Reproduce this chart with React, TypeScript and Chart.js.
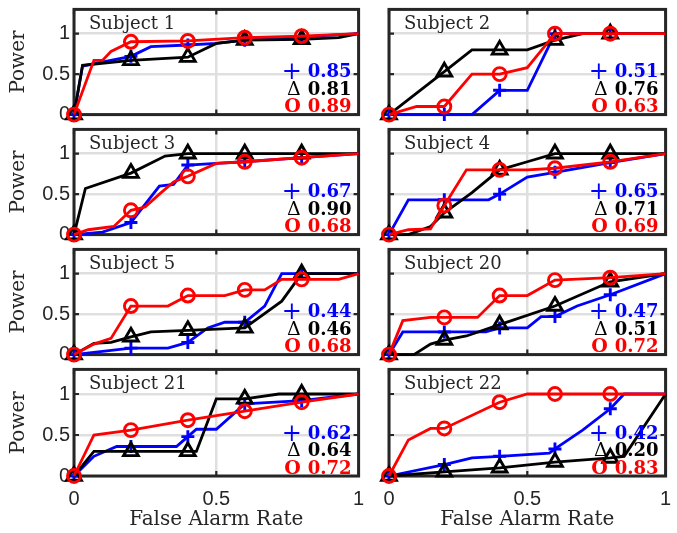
import React, { useEffect, useRef } from "react";
import { Chart, registerables } from "chart.js";
Chart.register(...registerables);

type Pt = [number, number];

// ---------- data ----------
const SUBJECT_NAMES = ["Subject 1", "Subject 2", "Subject 3", "Subject 4", "Subject 5", "Subject 20", "Subject 21", "Subject 22"];
const MARKER_X = [0, 0.2, 0.4, 0.6, 0.8];
const X_TICKS = [0, 0.5, 1];
const Y_TICKS = [0, 0.5, 1];

const S1_BLUE: Pt[] = [[0, 0], [0.03, 0.6], [0.2, 0.72], [0.27, 0.84], [0.4, 0.86], [0.5, 0.88], [0.6, 0.92], [0.8, 0.96], [1, 1]];
const S1_BLACK: Pt[] = [[0, 0], [0.03, 0.61], [0.2, 0.67], [0.4, 0.71], [0.5, 0.88], [0.6, 0.92], [0.8, 0.93], [0.93, 0.95], [1, 1]];
const S1_RED: Pt[] = [[0, 0], [0.07, 0.67], [0.1, 0.67], [0.13, 0.78], [0.2, 0.9], [0.4, 0.91], [0.6, 0.95], [0.8, 0.97], [1, 1]];
const S1_AUC = ["0.85", "0.81", "0.89"];

const S2_BLUE: Pt[] = [[0, 0], [0.2, 0], [0.3, 0], [0.4, 0.3], [0.5, 0.3], [0.6, 1], [0.8, 1], [1, 1]];
const S2_BLACK: Pt[] = [[0, 0], [0.2, 0.53], [0.3, 0.8], [0.4, 0.8], [0.5, 0.8], [0.6, 0.92], [0.7, 1], [0.8, 1], [1, 1]];
const S2_RED: Pt[] = [[0, 0], [0.1, 0.1], [0.2, 0.1], [0.3, 0.5], [0.4, 0.5], [0.5, 0.58], [0.6, 1], [0.8, 1], [1, 1]];
const S2_AUC = ["0.51", "0.76", "0.63"];

const S3_BLUE: Pt[] = [[0, 0], [0.1, 0.03], [0.2, 0.15], [0.3, 0.6], [0.35, 0.62], [0.4, 0.86], [0.5, 0.88], [0.6, 0.9], [0.8, 0.95], [1, 1]];
const S3_BLACK: Pt[] = [[0, 0], [0.04, 0.57], [0.2, 0.76], [0.32, 0.97], [0.4, 1], [0.6, 1], [0.8, 1], [1, 1]];
const S3_RED: Pt[] = [[0, 0], [0.05, 0.06], [0.14, 0.1], [0.2, 0.3], [0.25, 0.34], [0.3, 0.5], [0.35, 0.65], [0.4, 0.72], [0.5, 0.88], [0.6, 0.9], [0.8, 0.95], [1, 1]];
const S3_AUC = ["0.67", "0.90", "0.68"];

const S4_BLUE: Pt[] = [[0, 0], [0.07, 0.43], [0.2, 0.43], [0.36, 0.43], [0.4, 0.5], [0.5, 0.71], [0.6, 0.77], [0.8, 0.89], [1, 1]];
const S4_BLACK: Pt[] = [[0, 0], [0.07, 0], [0.15, 0.1], [0.2, 0.27], [0.3, 0.52], [0.4, 0.8], [0.5, 0.9], [0.6, 1], [0.8, 1], [1, 1]];
const S4_RED: Pt[] = [[0, 0], [0.07, 0.06], [0.15, 0.07], [0.2, 0.36], [0.28, 0.8], [0.4, 0.8], [0.5, 0.8], [0.6, 0.82], [0.8, 0.9], [1, 1]];
const S4_AUC = ["0.65", "0.71", "0.69"];

const S5_BLUE: Pt[] = [[0, 0], [0.2, 0.08], [0.33, 0.08], [0.4, 0.15], [0.47, 0.33], [0.53, 0.4], [0.6, 0.4], [0.67, 0.6], [0.73, 1], [0.8, 1], [1, 1]];
const S5_BLACK: Pt[] = [[0, 0], [0.07, 0.14], [0.13, 0.15], [0.2, 0.22], [0.27, 0.28], [0.4, 0.3], [0.6, 0.33], [0.73, 0.66], [0.8, 1], [1, 1]];
const S5_RED: Pt[] = [[0, 0], [0.07, 0.13], [0.13, 0.2], [0.2, 0.6], [0.33, 0.6], [0.4, 0.73], [0.53, 0.73], [0.6, 0.8], [0.67, 0.8], [0.73, 0.93], [0.8, 0.93], [0.93, 0.93], [1, 1]];
const S5_AUC = ["0.44", "0.46", "0.68"];

const S20_BLUE: Pt[] = [[0, 0], [0.05, 0.28], [0.2, 0.28], [0.35, 0.28], [0.4, 0.33], [0.5, 0.33], [0.55, 0.47], [0.6, 0.47], [0.68, 0.6], [0.8, 0.74], [1, 1]];
const S20_BLACK: Pt[] = [[0, 0], [0.09, 0], [0.15, 0.13], [0.2, 0.18], [0.28, 0.23], [0.4, 0.37], [0.6, 0.6], [0.8, 0.9], [1, 1]];
const S20_RED: Pt[] = [[0, 0], [0.05, 0.42], [0.15, 0.46], [0.2, 0.46], [0.32, 0.46], [0.4, 0.73], [0.5, 0.73], [0.6, 0.92], [0.8, 0.95], [1, 1]];
const S20_AUC = ["0.47", "0.51", "0.72"];

const S21_BLUE: Pt[] = [[0, 0], [0.07, 0.24], [0.15, 0.36], [0.2, 0.36], [0.36, 0.36], [0.4, 0.48], [0.43, 0.57], [0.5, 0.57], [0.6, 0.88], [0.8, 0.92], [1, 1]];
const S21_BLACK: Pt[] = [[0, 0], [0.07, 0.3], [0.2, 0.3], [0.4, 0.3], [0.43, 0.3], [0.5, 0.94], [0.6, 0.94], [0.72, 1], [0.8, 1], [1, 1]];
const S21_RED: Pt[] = [[0, 0], [0.07, 0.5], [0.2, 0.56], [0.4, 0.68], [0.6, 0.79], [0.8, 0.9], [1, 1]];
const S21_AUC = ["0.62", "0.64", "0.72"];

const S22_BLUE: Pt[] = [[0, 0], [0.2, 0.14], [0.3, 0.22], [0.4, 0.24], [0.58, 0.28], [0.6, 0.33], [0.7, 0.56], [0.8, 0.82], [0.85, 1], [1, 1]];
const S22_BLACK: Pt[] = [[0, 0], [0.2, 0.05], [0.4, 0.1], [0.6, 0.17], [0.8, 0.22], [0.85, 0.24], [1, 1]];
const S22_RED: Pt[] = [[0, 0], [0.07, 0.44], [0.15, 0.58], [0.2, 0.58], [0.4, 0.9], [0.5, 1], [0.6, 1], [0.8, 1], [1, 1]];
const S22_AUC = ["0.42", "0.20", "0.83"];

const X_LABEL = "False Alarm Rate";
const Y_LABEL = "Power";
const AUC_SYMBOLS = ["+", "\u0394", "O"];

// ---------- panel table ----------
const PANELS = [
  { blue: S1_BLUE, black: S1_BLACK, red: S1_RED, auc: S1_AUC },
  { blue: S2_BLUE, black: S2_BLACK, red: S2_RED, auc: S2_AUC },
  { blue: S3_BLUE, black: S3_BLACK, red: S3_RED, auc: S3_AUC },
  { blue: S4_BLUE, black: S4_BLACK, red: S4_RED, auc: S4_AUC },
  { blue: S5_BLUE, black: S5_BLACK, red: S5_RED, auc: S5_AUC },
  { blue: S20_BLUE, black: S20_BLACK, red: S20_RED, auc: S20_AUC },
  { blue: S21_BLUE, black: S21_BLACK, red: S21_RED, auc: S21_AUC },
  { blue: S22_BLUE, black: S22_BLACK, red: S22_RED, auc: S22_AUC },
].map((p, i) => ({ ...p, name: SUBJECT_NAMES[i] }));

// ---------- styling ----------
const BLUE = "#0000ff";
const BLACK = "#000000";
const RED = "#ff0000";
const AXIS = "#262626";
const GRID = "#dfdfdf";
const SERIF = "'DejaVu Serif', serif";
const SANS = "'Liberation Sans', Arial, sans-serif";

const ROW_TOPS = [8, 128, 248, 368];
const PLOT_H = 108;
const COLS = [
  { left: 0, width: 370, yw: 74, padR: 9 },
  { left: 370, width: 307, yw: 19, padR: 1 },
];

function makeDataset(pts: Pt[], color: string, style: string, order: number, radius: number) {
  return {
    data: pts.map(([x, y]) => ({ x, y })),
    borderColor: color,
    backgroundColor: "rgba(0,0,0,0)",
    borderWidth: 2.8,
    tension: 0,
    order,
    clip: false as any,
    pointStyle: style,
    pointBorderColor: color,
    pointBackgroundColor: "rgba(0,0,0,0)",
    pointBorderWidth: 2.9,
    pointRadius: (ctx: any) => (ctx.raw && MARKER_X.includes(ctx.raw.x) ? radius : 0),
    pointHoverRadius: 0,
  };
}

function panelPlugin(p: any) {
  return {
    id: "panelDeco",
    beforeDatasetsDraw(chart: any) {
      const { ctx, chartArea: a, scales } = chart;
      ctx.save();
      ctx.strokeStyle = AXIS;
      ctx.lineWidth = 2.2;
      const tl = 5;
      ctx.beginPath();
      for (const v of X_TICKS) {
        const px = scales.x.getPixelForValue(v);
        ctx.moveTo(px, a.bottom);
        ctx.lineTo(px, a.bottom - tl);
        ctx.moveTo(px, a.top);
        ctx.lineTo(px, a.top + tl);
      }
      for (const v of Y_TICKS) {
        const py = scales.y.getPixelForValue(v);
        ctx.moveTo(a.left, py);
        ctx.lineTo(a.left + tl, py);
        ctx.moveTo(a.right, py);
        ctx.lineTo(a.right - tl, py);
      }
      ctx.stroke();
      ctx.lineWidth = 3;
      ctx.strokeRect(a.left, a.top, a.right - a.left, a.bottom - a.top);
      ctx.restore();
    },
    afterDatasetsDraw(chart: any) {
      const { ctx, chartArea: a } = chart;
      ctx.save();
      ctx.fillStyle = "#262626";
      ctx.font = `18px ${SERIF}`;
      ctx.textAlign = "left";
      ctx.textBaseline = "alphabetic";
      ctx.fillText(p.name, a.left + 15, a.top + 20);

      const colors = [BLUE, BLACK, RED];
      const offsets = [37.5, 20, 2.5];
      const symFonts = [`24px ${SERIF}`, `19px ${SERIF}`, `bold 19px ${SERIF}`];
      for (let i = 0; i < 3; i++) {
        const x = a.right - 7;
        const y = a.bottom - offsets[i];
        ctx.fillStyle = colors[i];
        ctx.textAlign = "right";
        ctx.font = `bold 18px ${SERIF}`;
        ctx.fillText(p.auc[i], x, y);
        const w = ctx.measureText(p.auc[i]).width;
        ctx.font = symFonts[i];
        ctx.fillText(AUC_SYMBOLS[i], x - w - (i === 0 ? 6 : 7), y + (i === 0 ? 2 : 0));
      }
      ctx.restore();
    },
  };
}

function Panel({ p, idx }: { p: any; idx: number }) {
  const ref = useRef<HTMLCanvasElement>(null);
  const row = Math.floor(idx / 2);
  const col = idx % 2;
  const C = COLS[col];
  const top = ROW_TOPS[row] - 10;
  const isBottom = row === 3;
  const height = isBottom ? 533 - top : 128;
  const xh = isBottom ? height - 10 - PLOT_H : 0;

  useEffect(() => {
    if (!ref.current) return;
    const chart = new Chart(ref.current, {
      type: "line",
      data: {
        datasets: [
          makeDataset(p.red, RED, "circle", 1, 6.5),
          makeDataset(p.black, BLACK, "triangle", 2, 8.5),
          makeDataset(p.blue, BLUE, "cross", 3, 6.5),
        ] as any,
      },
      options: {
        responsive: false,
        animation: false,
        devicePixelRatio: 1,
        events: [],
        layout: { padding: { top: 10, bottom: isBottom ? 0 : 10, left: 0, right: C.padR } },
        plugins: { legend: { display: false }, tooltip: { enabled: false } },
        scales: {
          x: {
            type: "linear",
            min: 0,
            max: 1,
            afterBuildTicks: (s: any) => {
              s.ticks = X_TICKS.map((v) => ({ value: v }));
            },
            afterFit: (s: any) => {
              s.height = xh;
              s.paddingLeft = 0;
              s.paddingRight = 0;
            },
            grid: { color: GRID, lineWidth: 2.5, drawTicks: false },
            border: { display: false },
            ticks: {
              display: isBottom,
              font: { family: SANS, size: 20 },
              color: AXIS,
              padding: 11,
              maxRotation: 0,
              autoSkip: false,
              callback: (v: any) => String(v),
            },
            title: {
              display: isBottom,
              text: X_LABEL,
              font: { family: SERIF, size: 20 },
              color: AXIS,
              padding: { top: 0, bottom: 1 },
            },
          },
          y: {
            type: "linear",
            min: 0,
            max: 1.3,
            afterBuildTicks: (s: any) => {
              s.ticks = Y_TICKS.map((v) => ({ value: v }));
            },
            afterFit: (s: any) => {
              s.width = C.yw;
              s.paddingTop = 0;
              s.paddingBottom = 0;
            },
            grid: { color: GRID, lineWidth: 2.5, drawTicks: false },
            border: { display: false },
            ticks: {
              display: col === 0,
              font: { family: SANS, size: 20 },
              color: AXIS,
              padding: 4,
              autoSkip: false,
              callback: (v: any) => String(v),
            },
            title: {
              display: col === 0,
              text: Y_LABEL,
              font: { family: SERIF, size: 20 },
              color: AXIS,
              padding: { top: 7, bottom: 0 },
            },
          },
        },
      } as any,
      plugins: [panelPlugin(p)],
    });
    return () => chart.destroy();
  }, []);

  return (
    <canvas
      ref={ref}
      width={C.width}
      height={height}
      style={{ position: "absolute", left: C.left, top, width: C.width, height }}
    />
  );
}

export default function App() {
  return (
    <div style={{ position: "absolute", left: 0, top: 0, width: 677, height: 533, overflow: "hidden", background: "#fff" }}>
      {PANELS.map((p, i) => (
        <Panel key={i} p={p} idx={i} />
      ))}
    </div>
  );
}
